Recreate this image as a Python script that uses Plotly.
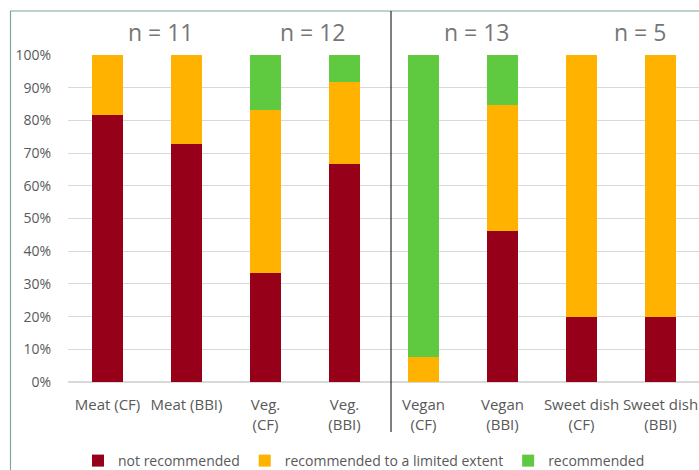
import plotly.graph_objects as go

categories = ["Meat (CF)", "Meat (BBI)", "Veg.<br>(CF)", "Veg.<br>(BBI)",
              "Vegan<br>(CF)", "Vegan<br>(BBI)", "Sweet dish<br>(CF)", "Sweet dish<br>(BBI)"]
not_recommended = [0.818, 0.727, 0.333, 0.667, 0.0, 0.462, 0.20, 0.20]
limited_extent = [0.182, 0.273, 0.500, 0.250, 0.077, 0.385, 0.80, 0.80]
recommended = [0.0, 0.0, 0.167, 0.083, 0.923, 0.154, 0.0, 0.0]
series_names = ["not recommended", "recommended to a limited extent", "recommended"]
series_colors = ["#960018", "#FFB300", "#5FC93F"]
group_labels = ["n = 11", "n = 12", "n = 13", "n = 5"]

FONT = "Open Sans"
W, H = 700, 470
PLOT_LEFT, PLOT_RIGHT = 68, 700
PLOT_TOP, PLOT_BOTTOM = 55, 382
PH = PLOT_BOTTOM - PLOT_TOP
PW = PLOT_RIGHT - PLOT_LEFT
LABEL_CENTRES_PX = [161, 313, 477, 640]  # layout positions of the group labels


def py(pix):
    return (PLOT_BOTTOM - pix) / PH


def px(pix):
    return (pix - PLOT_LEFT) / PW


fig = go.Figure()
for name, vals, col in zip(series_names, [not_recommended, limited_extent, recommended], series_colors):
    fig.add_trace(go.Bar(x=categories, y=vals, name=name, marker_color=col,
                         marker_line_width=0, width=0.4))

for lab, cx in zip(group_labels, LABEL_CENTRES_PX):
    fig.add_annotation(x=px(cx), xref="paper", y=py(32), yref="paper",
                       xanchor="center", yanchor="middle", text=lab, showarrow=False,
                       font=dict(size=23, color="#767676", family=FONT))

fig.update_layout(
    width=W, height=H,
    barmode="stack", bargap=0.6,
    plot_bgcolor="white", paper_bgcolor="white",
    margin=dict(l=PLOT_LEFT, r=W - PLOT_RIGHT, t=PLOT_TOP, b=H - PLOT_BOTTOM, autoexpand=False),
    font=dict(family=FONT, color="#595959", size=14),
    showlegend=True,
    legend=dict(orientation="h", x=px(364), xanchor="center", yref="container",
                y=(H - 461) / H, yanchor="middle",
                font=dict(size=14, color="#595959"), traceorder="normal",
                bgcolor="rgba(0,0,0,0)"),
    xaxis=dict(showgrid=False, showline=False, ticks="", ticklabelstandoff=12, automargin=False,
               tickfont=dict(size=15, color="#595959"), fixedrange=True),
    yaxis=dict(range=[0, 1], tickformat=".0%", dtick=0.1, showgrid=True, automargin=False,
               gridcolor="#D9D9D9", gridwidth=1, zeroline=True, zerolinecolor="#D9D9D9",
               showline=False, ticks="", ticklabelstandoff=16,
               tickfont=dict(size=14, color="#595959")),
    shapes=[
        dict(type="rect", xref="paper", yref="paper", x0=px(10.5), x1=1.05, y0=-0.40, y1=py(11),
             line=dict(color="#7FA88F", width=1.2), fillcolor="rgba(0,0,0,0)", layer="below"),
        dict(type="line", xref="paper", yref="paper", x0=px(391), x1=px(391), y0=py(432), y1=py(11),
             line=dict(color="#000000", width=1)),
    ],
)
fig.write_html("out.html", config={"displayModeBar": False},
               post_script="document.body.style.margin='0';document.body.style.overflow='hidden';")
